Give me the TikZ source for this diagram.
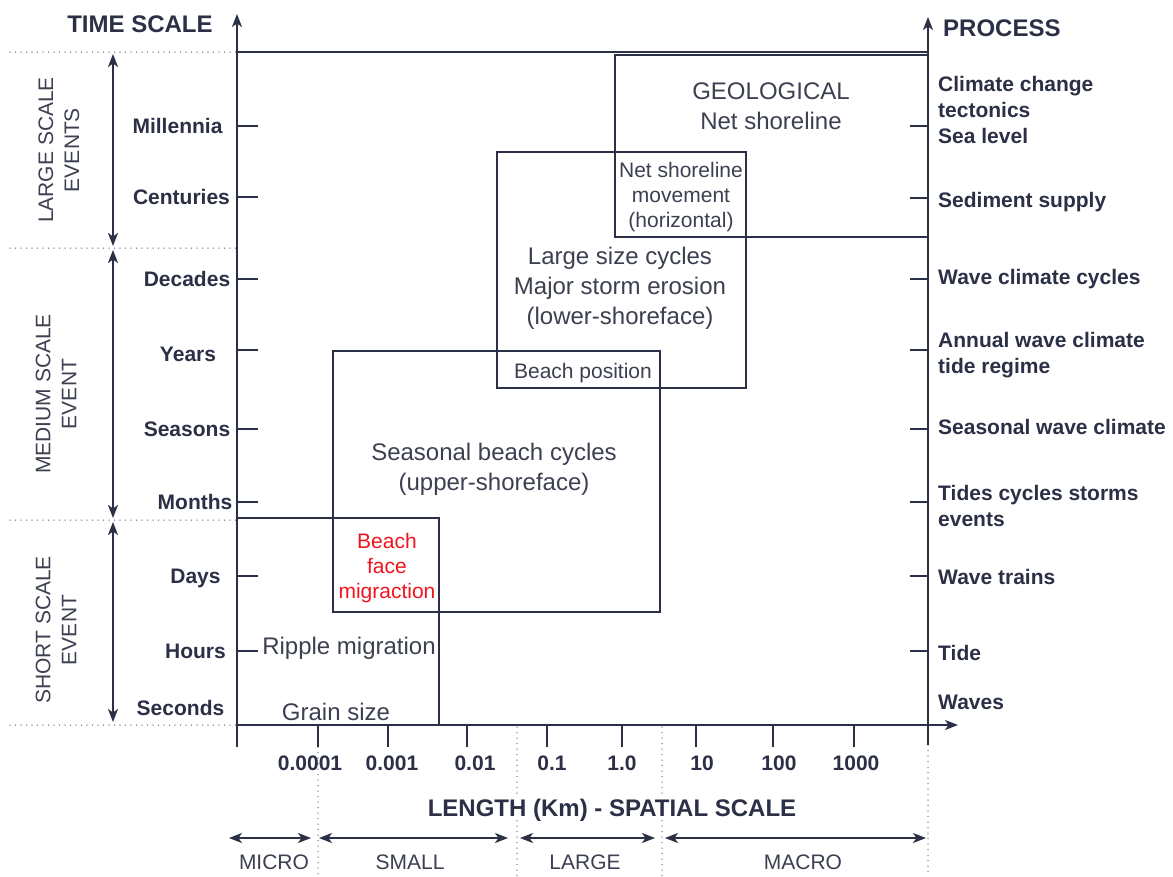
\documentclass[tikz,border=0pt]{standalone}
\usepackage{fontspec}
\setmainfont{Liberation Sans}
\usetikzlibrary{arrows.meta}
\definecolor{ink}{RGB}{44,48,70}
\definecolor{txt}{RGB}{60,64,80}
\definecolor{dotc}{RGB}{120,124,140}
\definecolor{redt}{RGB}{240,20,30}
\begin{document}
\begin{tikzpicture}[x=1pt,y=-1pt,
  ax/.style={draw=ink,line width=1.8pt},
  tk/.style={draw=ink,line width=1.6pt},
  bx/.style={draw=ink,line width=1.6pt},
  dotl/.style={draw=dotc,line width=1.5pt,line cap=round,dash pattern=on 0pt off 5.5pt},
  tip/.style={-{Stealth[length=13pt,width=10pt,inset=3.5pt]}},
  dtip/.style={{Stealth[length=13pt,width=10pt,inset=3.5pt]}-{Stealth[length=13pt,width=10pt,inset=3.5pt]}},
  tlab/.style={font=\fontsize{21}{25}\selectfont\bfseries,text=ink,inner sep=0pt,text height=15pt,text depth=0pt},
  plab/.style={font=\fontsize{21}{26}\selectfont\bfseries,text=ink,inner sep=0pt,align=left},
  num/.style={font=\fontsize{21}{25}\selectfont\bfseries,text=ink,inner sep=0pt,text height=15pt,text depth=0pt},
  title/.style={font=\fontsize{24}{28}\selectfont\bfseries,text=ink,inner sep=0pt,text height=17.2pt,text depth=0pt},
  rlab/.style={font=\fontsize{21}{26}\selectfont,text=txt,inner sep=0pt,align=center,rotate=90},
  slab/.style={font=\fontsize{21}{25}\selectfont,text=txt,inner sep=0pt,text height=15pt,text depth=0pt},
  big/.style={font=\fontsize{24}{30}\selectfont,text=txt,inner sep=0pt,align=center},
  mid/.style={font=\fontsize{21}{25}\selectfont,text=txt,inner sep=0pt,align=center},
]
\useasboundingbox (0,0) rectangle (1173,876);
\fill[white] (0,0) rectangle (1173,876);

% ---- coordinates
\coordinate (O) at (237,725);
\coordinate (Lbot) at (237,747);
\coordinate (Ltop) at (237,14);
\coordinate (Rbot) at (928,745);
\coordinate (Rtop) at (928,17);
\coordinate (Xend) at (958,725);
\coordinate (T1) at (237,52);
\coordinate (T2) at (928,52);

% ---- horizontal dotted separators (left)
\foreach \y/\n in {52/a,248/b,520/c,725/d}{
  \coordinate (hd\n) at (10,\y);
  \coordinate (he\n) at (237,\y);
  \draw[dotl] (hd\n) -- (he\n);
}
% ---- vertical dotted separators (bottom)
\foreach \x/\s/\n in {318/747/a,517/727/b,662/727/c,928/745/d}{
  \coordinate (vs\n) at (\x,\s);
  \coordinate (ve\n) at (\x,876);
  \draw[dotl] (vs\n) -- (ve\n);
}

% ---- boxes
\draw[bx] (615,55) rectangle (928,237);
\draw[bx] (497,152) rectangle (746,388);
\draw[bx] (333,351) rectangle (660,612);
\draw[bx] (237,518) rectangle (439,725);

% ---- axes
\draw[ax] (T1) -- (T2);
\draw[ax,tip] (Lbot) -- (Ltop);
\draw[ax,tip] (Rbot) -- (Rtop);
\draw[ax,tip] (O) -- (Xend);

% ---- ticks
\foreach \y in {126,197,279,350,429,502,576,651}{
  \draw[tk] (237,\y) -- (258,\y);
}
\foreach \y in {126,198,279,350,429,502,576,651}{
  \draw[tk] (910,\y) -- (928,\y);
}
\foreach \x in {318,388,467,547,622,696,773,854}{
  \draw[tk] (\x,725) -- (\x,747);
}

% ---- titles
\node[title] (ts) at (140,24) {TIME SCALE};
\node[title,anchor=west] (pr) at (943,28) {PROCESS};
\node[title,fill=white,inner xsep=4pt,inner ysep=3pt] (len) at (612,808) {LENGTH (Km) - SPATIAL SCALE};

% ---- time labels
\foreach \t/\x/\y/\n in {Millennia/177.5/126/1,Centuries/181.5/197/2,Decades/187/279/3,Years/188/354/4,Seasons/187/429/5,Months/195/502/6,Days/195.5/576/7,Hours/195.5/651/8,Seconds/180.5/708/9}{
  \node[tlab] (tl\n) at (\x,\y) {\t};
}

% ---- process labels
\node[plab,anchor=west] (p1) at (938,109.5) {Climate change\\tectonics\\Sea level};
\node[tlab,anchor=west] (p2) at (938,200) {Sediment supply};
\node[tlab,anchor=west] (p3) at (938,277) {Wave climate cycles};
\node[plab,anchor=west] (p4) at (938,355.5) {Annual wave climate\\tide regime};
\node[tlab,anchor=west] (p5) at (938,427) {Seasonal wave climate};
\node[plab,anchor=west] (p6) at (938,505.5) {Tides cycles storms\\events};
\node[tlab,anchor=west] (p7) at (938,577) {Wave trains};
\node[tlab,anchor=west] (p8) at (938,653) {Tide};
\node[tlab,anchor=west] (p9) at (938,702) {Waves};

% ---- axis numbers
\foreach \t/\x/\n in {0.0001/310/1,0.001/392/2,0.01/475/3,0.1/552/4,1.0/622/5,10/702/6,100/779/7,1000/856/8}{
  \node[num] (n\n) at (\x,763) {\t};
}

% ---- rotated scale labels
\node[rlab] (lg) at (59,150) {LARGE SCALE\\EVENTS};
\node[rlab] (md) at (56,394) {MEDIUM SCALE\\EVENT};
\node[rlab] (sh) at (56,630) {SHORT SCALE\\EVENT};

% ---- vertical double arrows
\coordinate (va1) at (113,54);  \coordinate (va2) at (113,246);
\coordinate (vb1) at (113,250); \coordinate (vb2) at (113,518);
\coordinate (vc1) at (113,522); \coordinate (vc2) at (113,722);
\draw[ax,line width=1.6pt,dtip] (va1) -- (va2);
\draw[ax,line width=1.6pt,dtip] (vb1) -- (vb2);
\draw[ax,line width=1.6pt,dtip] (vc1) -- (vc2);

% ---- horizontal spatial double arrows
\coordinate (ha1) at (229,838); \coordinate (ha2) at (311,838);
\coordinate (hb1) at (319,838); \coordinate (hb2) at (508,838);
\coordinate (hc1) at (520,838); \coordinate (hc2) at (655,838);
\coordinate (hd1) at (665,838); \coordinate (hd2) at (926,838);
\draw[ax,line width=1.6pt,dtip] (ha1) -- (ha2);
\draw[ax,line width=1.6pt,dtip] (hb1) -- (hb2);
\draw[ax,line width=1.6pt,dtip] (hc1) -- (hc2);
\draw[ax,line width=1.6pt,dtip] (hd1) -- (hd2);
\node[slab] (mi) at (274,862) {MICRO};
\node[slab] (sm) at (410,862) {SMALL};
\node[slab] (la) at (585,862) {LARGE};
\node[slab] (ma) at (803,862) {MACRO};

% ---- box texts
\node[big] (geo) at (771,106) {GEOLOGICAL\\Net shoreline};
\node[mid] (nsm) at (681,197) {Net shoreline\\movement\\(horizontal)};
\node[big] (lsc) at (620,288) {Large size cycles\\Major storm erosion\\(lower-shoreface)};
\node[mid] (bp) at (583,373) {Beach position};
\node[big] (sbc) at (494,469) {Seasonal beach cycles\\(upper-shoreface)};
\node[mid,text=redt] (bfm) at (387,568) {Beach\\face\\migraction};
\node[big] (rip) at (349,648) {Ripple migration};
\node[big] (gs) at (336,712) {Grain size};
\end{tikzpicture}
\end{document}
